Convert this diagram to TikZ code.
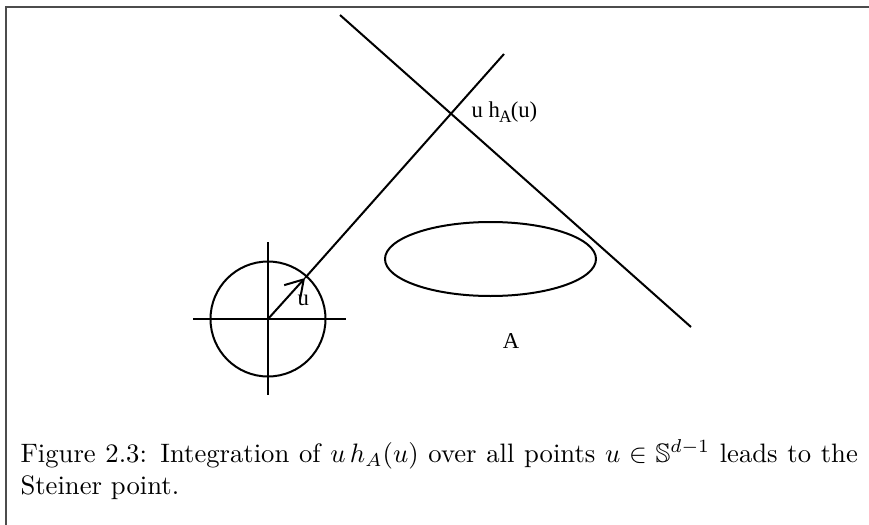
\documentclass[tikz,border=0pt]{standalone}
\usepackage{amssymb}
\usepackage{fontspec}
\usetikzlibrary{arrows.meta}
\newfontfamily\tms{Liberation Serif}
\begin{document}
\begin{tikzpicture}[x=0.375pt,y=-0.375pt,
  ln/.style={line width=0.75pt,black},
  lbl/.style={font=\tms\fontsize{8.5}{10}\selectfont,inner sep=0pt}]
\useasboundingbox (0,0) rectangle (869,525);
% frame
\draw[line width=0.6pt,black!70] (6,525) -- (6,7) -- (869,7);
% unit circle and axes
\coordinate (O) at (268,319);
\draw[ln] (O) circle[radius=57.5];
\draw[ln] (193,319) -- (346,319);
\draw[ln] (268,242) -- (268,395);
% ray with arrow
\coordinate (P) at (305,278);
\coordinate (R) at (504,54);
\draw[ln,-{Straight Barb[length=6.5pt,width=8pt]}] (O) -- (P);
\draw[ln] (P) -- (R);
% tangent line
\coordinate (L1) at (340,15);
\coordinate (L2) at (691,327);
\draw[ln] (L1) -- (L2);
% ellipse
\draw[ln] (490.5,259) ellipse[x radius=105.5,y radius=37];
% labels
\node[lbl,anchor=west] (lu) at (297,300) {u};
\node[lbl,anchor=west] (lh) at (471,112) {u h\kern-0.3pt\raisebox{-0.5ex}{\fontsize{6.5}{7}\selectfont A}\kern-0.3pt(u)};
\node[lbl] (lA) at (511,341) {A};
% caption
\node[anchor=base west,inner sep=0pt] (cap) at (20,462) {\parbox[t]{314pt}{\fontsize{10}{12}\selectfont Figure 2.3: Integration of $u\,h_A(u)$ over all points $u\in\mathbb{S}^{d-1}$ leads to the Steiner point.}};
\end{tikzpicture}
\end{document}
